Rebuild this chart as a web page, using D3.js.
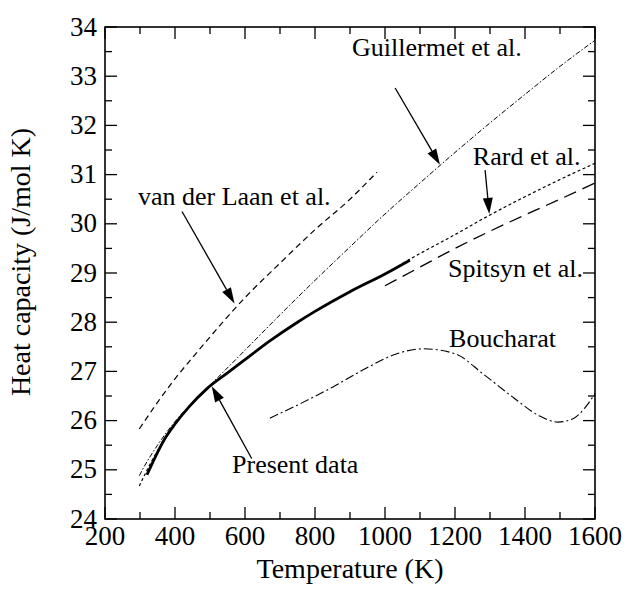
<!DOCTYPE html>
<html>
<head>
<meta charset="utf-8">
<script src="https://cdn.jsdelivr.net/npm/d3@7"></script>
<style>
  body { margin: 0; background: #fff; }
</style>
</head>
<body>
<script>
// heat capacity curves (T in K, Cp in J/mol K)
var presentT = [320, 345, 370, 400, 440, 490, 550, 600, 671, 750, 800, 900, 1000, 1071];
var presentCp = [24.9, 25.28, 25.62, 25.93, 26.28, 26.64, 26.97, 27.24, 27.62, 28.0, 28.22, 28.62, 28.98, 29.26];

var rardT = [298, 330, 360, 386, 440, 490, 550, 600, 671, 750, 800, 900, 1000, 1071, 1200, 1300, 1400, 1500, 1600];
var rardCp = [24.67, 25.13, 25.5, 25.78, 26.28, 26.64, 26.97, 27.24, 27.62, 28.0, 28.22, 28.62, 28.98, 29.28, 29.78, 30.18, 30.55, 30.9, 31.23];

var guillT = [298, 310, 350, 400, 450, 500, 600, 700, 800, 900, 1000, 1100, 1200, 1300, 1400, 1500, 1600];
var guillCp = [24.88, 25.04, 25.5, 25.98, 26.37, 26.72, 27.43, 28.15, 28.85, 29.53, 30.2, 30.83, 31.45, 32.05, 32.63, 33.2, 33.73];

var laanT = [298, 350, 400, 450, 500, 600, 700, 800, 900, 977];
var laanCp = [25.83, 26.37, 26.85, 27.28, 27.7, 28.5, 29.2, 29.88, 30.5, 31.05];

var spitT = [1000, 1100, 1200, 1300, 1400, 1500, 1600];
var spitCp = [28.74, 29.12, 29.5, 29.85, 30.18, 30.5, 30.83];

var bouchT = [671, 760, 850, 950, 1030, 1110, 1200, 1280, 1370, 1440, 1494, 1540, 1570, 1600];
var bouchCp = [26.05, 26.35, 26.68, 27.08, 27.35, 27.46, 27.36, 26.95, 26.45, 26.1, 25.97, 26.05, 26.25, 26.55];

var xTicks = [200, 400, 600, 800, 1000, 1200, 1400, 1600];
var yTicks = [24, 25, 26, 27, 28, 29, 30, 31, 32, 33, 34];

// labels: [text, T, Cp] at text start / baseline
var labels = [
  ["van der Laan et al.", 294, 30.38],
  ["Guillermet et al.", 906, 33.41],
  ["Rard et al.", 1251, 31.2],
  ["Spitsyn et al.", 1180, 28.92],
  ["Boucharat", 1183, 27.5],
  ["Present data", 563, 24.93]
];
// arrows: [tailT, tailCp, tipT, tipCp]
var arrows = [
  [420, 30.25, 570, 28.38],
  [1029, 32.76, 1157, 31.2],
  [1286, 31.09, 1298, 30.2],
  [619, 25.23, 505, 26.7]
];

var width = 626, height = 589;
var pL = 105, pR = 595, pT = 27, pB = 519;

var svg = d3.select("body").append("svg")
  .attr("width", width)
  .attr("height", height)
  .attr("font-family", "Liberation Serif");

var x = d3.scaleLinear().domain([200, 1600]).range([pL, pR]);
var y = d3.scaleLinear().domain([24, 34]).range([pB, pT]);

var line = d3.line()
  .x(function (d) { return x(d[0]); })
  .y(function (d) { return y(d[1]); })
  .curve(d3.curveMonotoneX);

function pairs(a, b) { return a.map(function (v, i) { return [v, b[i]]; }); }

var series = [
  {t: laanT, cp: laanCp, w: 1.2, dash: "6,4"},
  {t: guillT, cp: guillCp, w: 1, dash: "5,2,1.5,2"},
  {t: rardT, cp: rardCp, w: 1.2, dash: "3,2.5"},
  {t: spitT, cp: spitCp, w: 1.3, dash: "13,7"},
  {t: bouchT, cp: bouchCp, w: 1.1, dash: "9,3,2,3"},
  {t: presentT, cp: presentCp, w: 2.8, dash: null}
];

svg.selectAll("path.curve")
  .data(series)
  .enter().append("path")
  .attr("class", "curve")
  .attr("d", function (s) { return line(pairs(s.t, s.cp)); })
  .attr("fill", "none")
  .attr("stroke", "#000")
  .attr("stroke-width", function (s) { return s.w; })
  .attr("stroke-dasharray", function (s) { return s.dash; });

// ticks on all four sides, pointing in
var xMinor = d3.range(200, 1601, 100);
var yMinor = d3.range(24, 34.01, 0.5);
var g = svg.append("g").attr("stroke", "#000").attr("stroke-width", 1.3);
xMinor.forEach(function (v) {
  var len = v % 200 === 0 ? 12 : 7;
  g.append("line").attr("x1", x(v)).attr("x2", x(v)).attr("y1", pB).attr("y2", pB - len);
  g.append("line").attr("x1", x(v)).attr("x2", x(v)).attr("y1", pT).attr("y2", pT + len);
});
yMinor.forEach(function (v) {
  var len = Math.abs(v - Math.round(v)) < 1e-6 ? 12 : 7;
  g.append("line").attr("y1", y(v)).attr("y2", y(v)).attr("x1", pL).attr("x2", pL + len);
  g.append("line").attr("y1", y(v)).attr("y2", y(v)).attr("x1", pR).attr("x2", pR - len);
});

svg.append("rect")
  .attr("x", pL).attr("y", pT)
  .attr("width", pR - pL).attr("height", pB - pT)
  .attr("fill", "none").attr("stroke", "#000").attr("stroke-width", 1.6);

svg.selectAll("text.xt")
  .data(xTicks)
  .enter().append("text")
  .attr("class", "xt")
  .attr("font-family", "Liberation Serif")
  .attr("font-size", 27)
  .attr("x", function (d) { return x(d); })
  .attr("y", pB + 26)
  .attr("text-anchor", "middle")
  .text(function (d) { return d; });

svg.selectAll("text.yt")
  .data(yTicks)
  .enter().append("text")
  .attr("class", "yt")
  .attr("font-family", "Liberation Serif")
  .attr("font-size", 27)
  .attr("x", pL - 8)
  .attr("y", function (d) { return y(d); })
  .attr("dy", "0.32em")
  .attr("text-anchor", "end")
  .text(function (d) { return d; });

svg.append("text")
  .attr("font-family", "Liberation Serif")
  .attr("font-size", 28)
  .attr("x", (pL + pR) / 2)
  .attr("y", 578)
  .attr("text-anchor", "middle")
  .text("Temperature (K)");

svg.append("text")
  .attr("font-family", "Liberation Serif")
  .attr("font-size", 28)
  .attr("transform", "translate(30,262) rotate(-90)")
  .attr("text-anchor", "middle")
  .text("Heat capacity (J/mol K)");

svg.selectAll("text.lab")
  .data(labels)
  .enter().append("text")
  .attr("class", "lab")
  .attr("font-family", "Liberation Serif")
  .attr("font-size", 26)
  .attr("x", function (d) { return x(d[1]); })
  .attr("y", function (d) { return y(d[2]); })
  .text(function (d) { return d[0]; });

// arrows with filled heads
arrows.forEach(function (a) {
  var x1 = x(a[0]), y1 = y(a[1]), x2 = x(a[2]), y2 = y(a[3]);
  var ang = Math.atan2(y2 - y1, x2 - x1), hl = 16, hw = 5;
  var bx = x2 - hl * Math.cos(ang), by = y2 - hl * Math.sin(ang);
  svg.append("line")
    .attr("x1", x1).attr("y1", y1).attr("x2", bx).attr("y2", by)
    .attr("stroke", "#000").attr("stroke-width", 1.3);
  svg.append("path")
    .attr("d", "M" + x2 + "," + y2 +
      "L" + (bx + hw * Math.sin(ang)) + "," + (by - hw * Math.cos(ang)) +
      "L" + (bx - hw * Math.sin(ang)) + "," + (by + hw * Math.cos(ang)) + "Z")
    .attr("fill", "#000");
});
</script>
</body>
</html>
